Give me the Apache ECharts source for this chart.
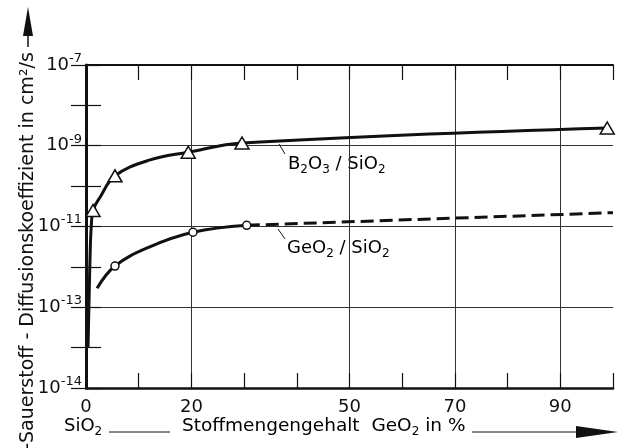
<!DOCTYPE html>
<html>
<head>
<meta charset="utf-8">
<script src="https://cdn.jsdelivr.net/npm/echarts@6/dist/echarts.min.js"></script>
<style>
  html, body { margin: 0; padding: 0; background: #fff; }
  #chart { width: 625px; height: 448px; }
</style>
</head>
<body>
<div id="chart"></div>
<script>
// B2O3 / SiO2 - Kurve und Messpunkte (Dreiecke)
var b2o3CurveX = [0.38, 0.57, 0.8, 1.0, 1.33, 2.7, 5.5, 12, 19.4, 29.6, 98.9];
var b2o3CurveD = [1e-14, 1.3e-13, 2.5e-12, 1e-11, 2.5e-11, 5.4e-11, 1.8e-10, 4.4e-10, 6.9e-10, 1.17e-9, 2.75e-9];
var b2o3PointsX = [1.33, 5.5, 19.4, 29.6, 98.9];
var b2o3PointsD = [2.5e-11, 1.8e-10, 6.9e-10, 1.17e-9, 2.75e-9];

// GeO2 / SiO2 - Kurve (durchgezogen + gestrichelt) und Messpunkte (Kreise)
var geo2CurveX = [2.1, 5.5, 12, 20.3, 30.5];
var geo2CurveD = [2.95e-13, 1.05e-12, 3.1e-12, 7.2e-12, 1.07e-11];
var geo2DashX = [30.5, 100];
var geo2DashD = [1.07e-11, 2.2e-11];
var geo2PointsX = [5.5, 20.3, 30.5];
var geo2PointsD = [1.05e-12, 7.2e-12, 1.07e-11];

// Achsen
var xTickLabels = [0, 20, 50, 70, 90];
var xGridValues = [20, 50, 70, 90];
var yTickValues = [1e-7, 1e-9, 1e-11, 1e-13, 1e-15];
var yTickExponents = ['-7', '-9', '-11', '-13', '-14'];
var yGridValues = [1e-9, 1e-11, 1e-13];

var FONT = '"DejaVu Sans", sans-serif';
var INK = '#111';

function zip(xs, ys) {
  return xs.map(function (x, i) { return [x, ys[i]]; });
}
function exp10(v) { return Math.round(Math.log10(v)); }

var xSplitColors = [];
for (var v = 0; v <= 100; v += 10) {
  xSplitColors.push(xGridValues.indexOf(v) >= 0 ? '#333' : 'rgba(0,0,0,0)');
}
var ySplitColors = [];
for (var e = -15; e <= -7; e++) {
  var hit = yGridValues.some(function (g) { return exp10(g) === e; });
  ySplitColors.push(hit ? '#333' : 'rgba(0,0,0,0)');
}

var mychart = echarts.init(document.getElementById('chart'));

var xBase = {
  type: 'value', min: 0, max: 100, interval: 10,
  axisTick: { inside: true, length: 15, lineStyle: { color: INK, width: 1.2 } }
};
var yBase = {
  type: 'log', logBase: 10, min: 1e-15, max: 1e-7, interval: 1,
  axisTick: { inside: true, length: 15, lineStyle: { color: INK, width: 1.2 } }
};

var option = {
  backgroundColor: '#fff',
  animation: false,
  grid: { left: 86, right: 12, top: 65, bottom: 60 },
  xAxis: [
    Object.assign({}, xBase, {
      position: 'bottom',
      axisLine: { lineStyle: { color: INK, width: 2.5 } },
      axisLabel: {
        margin: 10, color: INK, fontSize: 18, fontFamily: FONT,
        formatter: function (v) { return xTickLabels.indexOf(v) >= 0 ? String(v) : ''; }
      },
      splitLine: { show: true, showMinLine: true, showMaxLine: true,
        lineStyle: { color: xSplitColors, width: 1 } }
    }),
    Object.assign({}, xBase, {
      position: 'top',
      axisLine: { lineStyle: { color: INK, width: 2 } },
      axisLabel: { show: false },
      splitLine: { show: false }
    })
  ],
  yAxis: [
    Object.assign({}, yBase, {
      position: 'left',
      axisLine: { lineStyle: { color: INK, width: 3 } },
      axisLabel: {
        margin: 4, color: INK, fontFamily: FONT,
        formatter: function (v) {
          var k = -1;
          yTickValues.forEach(function (t, i) { if (exp10(t) === exp10(v)) k = i; });
          return k >= 0 ? '{b|10}{s|' + yTickExponents[k] + '}' : '';
        },
        rich: {
          b: { fontSize: 18, lineHeight: 26, fontFamily: FONT, color: INK },
          s: { fontSize: 13, lineHeight: 13, verticalAlign: 'top', fontFamily: FONT, color: INK }
        }
      },
      splitLine: { show: true, showMinLine: true, showMaxLine: true,
        lineStyle: { color: ySplitColors, width: 1 } }
    }),
    Object.assign({}, yBase, {
      position: 'right',
      axisLine: { lineStyle: { color: INK, width: 2 } },
      axisLabel: { show: false },
      splitLine: { show: false }
    })
  ],
  series: [
    {
      name: 'B2O3/SiO2', type: 'line', data: zip(b2o3CurveX, b2o3CurveD),
      smooth: 0.4, symbol: 'none', z: 3,
      lineStyle: { color: INK, width: 3 }
    },
    {
      name: 'GeO2/SiO2', type: 'line', data: zip(geo2CurveX, geo2CurveD),
      smooth: 0.4, symbol: 'none', z: 3,
      lineStyle: { color: INK, width: 3 }
    },
    {
      name: 'GeO2/SiO2 extrapoliert', type: 'line', data: zip(geo2DashX, geo2DashD),
      symbol: 'none', z: 3,
      lineStyle: { color: INK, width: 3, type: [13, 6] }
    },
    {
      type: 'scatter', data: zip(b2o3PointsX, b2o3PointsD),
      symbol: 'triangle', symbolSize: [14, 12], z: 5,
      itemStyle: { color: '#fff', opacity: 1, borderColor: INK, borderWidth: 1.5 }
    },
    {
      type: 'scatter', data: zip(geo2PointsX, geo2PointsD),
      symbol: 'circle', symbolSize: 8, z: 5,
      itemStyle: { color: '#fff', opacity: 1, borderColor: INK, borderWidth: 1.5 }
    }
  ],
  graphic: [
    // Ordinatenbeschriftung mit Pfeil
    {
      type: 'text', x: 28, y: 251, rotation: Math.PI / 2,
      style: {
        text: '-Sauerstoff - Diffusionskoeffizient in cm²/s',
        fill: INK, font: '19px ' + FONT, align: 'center', verticalAlign: 'middle'
      }
    },
    { type: 'line', shape: { x1: 28, y1: 47, x2: 28, y2: 34 }, style: { stroke: INK, lineWidth: 1.5 } },
    { type: 'polygon', shape: { points: [[23, 36], [28, 7], [33, 36]] }, style: { fill: INK } },

    // Abszissenbeschriftung mit Pfeil
    {
      type: 'text', x: 64, y: 426,
      style: {
        text: '{n|SiO}{u|2}', align: 'left', verticalAlign: 'middle',
        rich: {
          n: { fontSize: 18, lineHeight: 24, fontFamily: FONT, color: INK },
          u: { fontSize: 12, lineHeight: 12, verticalAlign: 'bottom', fontFamily: FONT, color: INK }
        }
      }
    },
    { type: 'line', shape: { x1: 109, y1: 432, x2: 170, y2: 432 }, style: { stroke: INK, lineWidth: 1 } },
    {
      type: 'text', x: 182, y: 426,
      style: {
        text: '{n|Stoffmengengehalt  GeO}{u|2}{n| in %}', align: 'left', verticalAlign: 'middle',
        rich: {
          n: { fontSize: 18.5, lineHeight: 24, fontFamily: FONT, color: INK },
          u: { fontSize: 12, lineHeight: 12, verticalAlign: 'bottom', fontFamily: FONT, color: INK }
        }
      }
    },
    { type: 'line', shape: { x1: 472, y1: 432, x2: 578, y2: 432 }, style: { stroke: INK, lineWidth: 1 } },
    { type: 'polygon', shape: { points: [[576, 426], [618, 432], [576, 438]] }, style: { fill: INK } },

    // Kurvenbezeichnungen
    { type: 'line', shape: { x1: 279, y1: 144, x2: 285, y2: 154 }, style: { stroke: INK, lineWidth: 1 } },
    {
      type: 'text', x: 288, y: 164,
      style: {
        text: '{n|B}{u|2}{n|O}{u|3}{n| / SiO}{u|2}', align: 'left', verticalAlign: 'middle',
        rich: {
          n: { fontSize: 18, lineHeight: 24, fontFamily: FONT, color: INK },
          u: { fontSize: 12, lineHeight: 12, verticalAlign: 'bottom', fontFamily: FONT, color: INK }
        }
      }
    },
    { type: 'line', shape: { x1: 278, y1: 229, x2: 285, y2: 239 }, style: { stroke: INK, lineWidth: 1 } },
    {
      type: 'text', x: 287, y: 248,
      style: {
        text: '{n|GeO}{u|2}{n| / SiO}{u|2}', align: 'left', verticalAlign: 'middle',
        rich: {
          n: { fontSize: 18, lineHeight: 24, fontFamily: FONT, color: INK },
          u: { fontSize: 12, lineHeight: 12, verticalAlign: 'bottom', fontFamily: FONT, color: INK }
        }
      }
    }
  ]
};

mychart.setOption(option);
</script>
</body>
</html>
